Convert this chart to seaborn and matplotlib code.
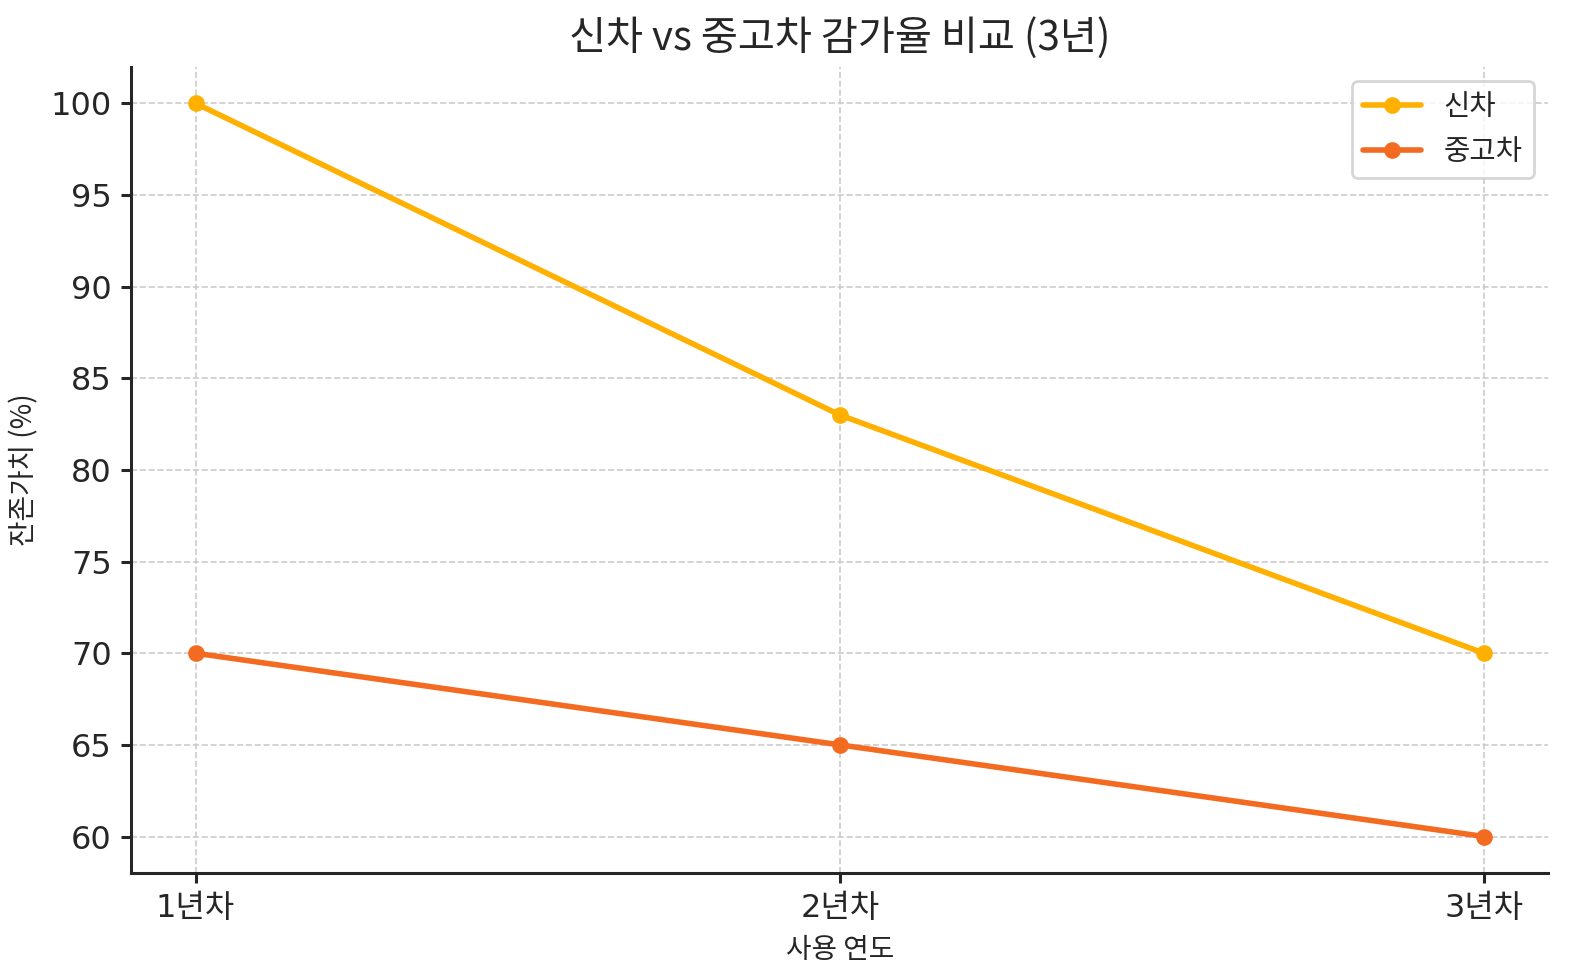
import matplotlib
matplotlib.use("Agg")
import matplotlib.pyplot as plt
import pandas as pd
import seaborn as sns

# data
years = ["1년차", "2년차", "3년차"]
new_car = [100, 83, 70]
used_car = [70, 65, 60]
series_names = ["신차", "중고차"]
colors = ["#FFB000", "#F26B21"]

df = pd.DataFrame({
    "year": years * 2,
    "value": new_car + used_car,
    "type": [series_names[0]] * len(years) + [series_names[1]] * len(years),
})

sns.set_style("ticks")
plt.rcParams['font.family'] = ['Noto Sans CJK KR', 'DejaVu Sans']
plt.rcParams['axes.linewidth'] = 1.1

fig, ax = plt.subplots(figsize=(7.9, 4.9), dpi=200)
sns.lineplot(data=df, x="year", y="value", hue="type", palette=colors,
             marker="o", markersize=6, markeredgewidth=0, linewidth=2, ax=ax)

ax.set_title("신차 vs 중고차 감가율 비교 (3년)", fontsize=14.5)
ax.set_xlabel("사용 연도", fontsize=10)
ax.set_ylabel("잔존가치 (%)", fontsize=10)
ax.tick_params(labelsize=11.5, width=1.1)
for lab in ax.get_xticklabels() + ax.get_yticklabels():
    lab.set_family(['DejaVu Sans', 'Noto Sans CJK KR'])
ax.grid(True, linestyle="--", color="#cccccc", linewidth=0.6)
sns.despine(ax=ax)
ax.legend(title=None, loc="upper right", fontsize=10.3)

fig.subplots_adjust(left=0.083, right=0.98, top=0.932, bottom=0.109)
fig.savefig("out.png", dpi=200)
